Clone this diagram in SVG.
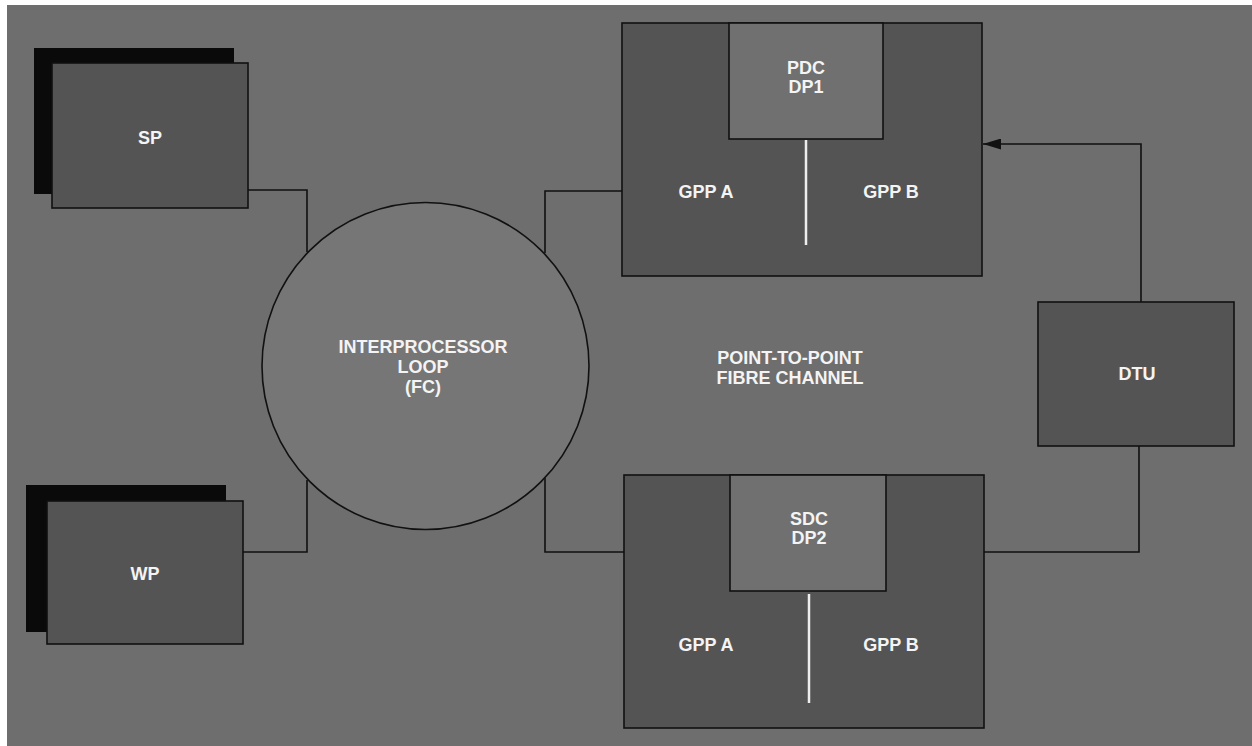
<svg xmlns="http://www.w3.org/2000/svg" width="1252" height="746" viewBox="0 0 1252 746">
<defs>
<style>
.bg{fill:#6e6e6e}
.box{fill:#545454;stroke:#111;stroke-width:1.6}
.inner{fill:#707070;stroke:#111;stroke-width:1.6}
.shadow{fill:#0a0a0a}
.loop{fill:#767676;stroke:#111;stroke-width:1.6}
.lbl{font-family:"Liberation Sans",Arial,sans-serif;font-weight:bold;font-size:18px;fill:#f4f4f4;text-anchor:middle}
.wire{fill:none;stroke:#111;stroke-width:1.6}
.split{stroke:#eeeeee;stroke-width:2.5}
</style>
<marker id="arr" viewBox="0 0 18 11" refX="18" refY="5.5" markerWidth="18" markerHeight="11" markerUnits="userSpaceOnUse" orient="auto">
<path d="M0,0 L18,5.5 L0,11 Z" fill="#111"/>
</marker>
</defs>
<rect x="0" y="0" width="1252" height="746" fill="#ffffff"/>
<rect class="bg" x="7" y="5" width="1245" height="741"/>

<g id="connectors">
<polyline class="wire" points="248,190 307,190 307,252"/>
<polyline class="wire" points="243,552 307,552 307,480"/>
<polyline class="wire" points="623,191 545,191 545,253"/>
<polyline class="wire" points="624,552 545,552 545,478"/>
<polyline class="wire" points="1141,302 1141,144 983,144" marker-end="url(#arr)"/>
<polyline class="wire" points="1139,446 1139,552 984,552"/>
</g>

<g id="sp">
<rect class="shadow" x="34" y="48" width="200" height="146"/>
<rect class="box" x="52" y="63" width="196" height="145"/>
<text class="lbl" x="150" y="144">SP</text>
</g>

<g id="wp">
<rect class="shadow" x="26" y="485" width="200" height="147"/>
<rect class="box" x="47" y="501" width="196" height="143"/>
<text class="lbl" x="145" y="580">WP</text>
</g>

<g id="loop">
<circle class="loop" cx="425.5" cy="366" r="163.5"/>
<text class="lbl" x="423" y="353">INTERPROCESSOR</text>
<text class="lbl" x="423" y="373">LOOP</text>
<text class="lbl" x="423" y="393">(FC)</text>
</g>

<g id="p2p-label">
<text class="lbl" x="790" y="364">POINT-TO-POINT</text>
<text class="lbl" x="790" y="384">FIBRE CHANNEL</text>
</g>

<g id="pdc">
<rect class="box" x="622" y="23" width="360" height="253"/>
<rect class="inner" x="729" y="23" width="154" height="116"/>
<text class="lbl" x="806" y="74">PDC</text>
<text class="lbl" x="806" y="93">DP1</text>
<line class="split" x1="806" y1="140" x2="806" y2="245"/>
<text class="lbl" x="706" y="198">GPP A</text>
<text class="lbl" x="891" y="198">GPP B</text>
</g>

<g id="sdc">
<rect class="box" x="624" y="475" width="360" height="253"/>
<rect class="inner" x="730" y="475" width="156" height="116"/>
<text class="lbl" x="809" y="525">SDC</text>
<text class="lbl" x="809" y="544">DP2</text>
<line class="split" x1="809" y1="594" x2="809" y2="703"/>
<text class="lbl" x="706" y="651">GPP A</text>
<text class="lbl" x="891" y="651">GPP B</text>
</g>

<g id="dtu">
<rect class="box" x="1038" y="302" width="196" height="144"/>
<text class="lbl" x="1137" y="380">DTU</text>
</g>
</svg>
